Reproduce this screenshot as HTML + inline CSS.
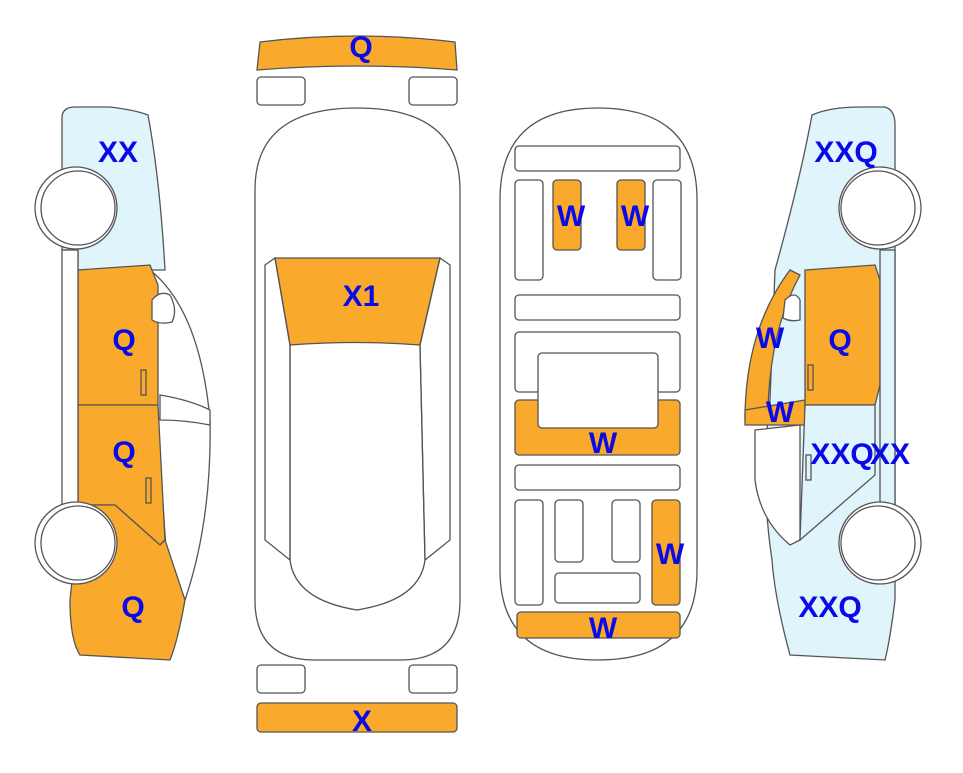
<!DOCTYPE html>
<html><head><style>
html,body{margin:0;padding:0;background:#fff}
svg text{font-family:"Liberation Sans",Arial,sans-serif;font-weight:bold;font-size:30px;fill:#0a0ae8;text-anchor:middle}
</style></head><body>
<svg width="963" height="768" viewBox="0 0 963 768" xmlns="http://www.w3.org/2000/svg">
<g stroke="#555" stroke-width="1.3" fill="#fff">
<!-- LEFT CAR -->
<path d="M62,118 Q62,107 75,107 L110,107 Q135,110 148,115 Q160,180 165,270 L78,270 L78,250 L62,250 Z" fill="#dff4fb"/>
<path d="M150,270 Q200,310 210,420 Q212,520 185,600 L170,600 Q160,480 150,270Z" fill="#fff"/>
<path d="M160,395 Q190,400 210,410 L210,425 Q185,420 160,420Z" fill="#fff"/>
<path d="M78,270 L150,265 L158,285 L158,405 L78,405Z" fill="#f9a92b"/>
<path d="M78,405 L158,405 L165,540 L160,545 L115,505 L78,505Z" fill="#f9a92b"/>
<path d="M80,505 L115,505 L160,545 L165,540 L185,600 Q178,640 170,660 L80,655 Q70,640 70,600 Z" fill="#f9a92b"/>
<rect x="62" y="250" width="16" height="255" fill="#fff"/>
<path d="M152,300 Q160,290 170,295 Q178,310 172,322 Q160,325 152,320Z" fill="#fff"/>
<circle cx="76" cy="208" r="41"/><circle cx="78" cy="208" r="37"/>
<circle cx="76" cy="543" r="41"/><circle cx="78" cy="543" r="37"/>
<rect x="141" y="370" width="5" height="25" fill="none"/><rect x="146" y="478" width="5" height="25" fill="none"/>
<!-- RIGHT CAR -->
<path d="M812,115 Q830,107 860,107 L885,107 Q895,110 895,125 L895,545 L895,600 Q890,640 885,660 L790,655 Q775,600 772,560 Q760,480 770,400 L775,270 Q800,180 812,115Z" fill="#dff4fb"/>
<path d="M745,420 Q745,330 790,270 L800,275 Q770,330 768,410 Z" fill="#f9a92b"/>
<path d="M745,410 L805,400 L805,425 L745,425Z" fill="#f9a92b"/>
<path d="M755,430 L800,425 L800,540 L790,545 Q760,520 755,480Z" fill="#fff"/>
<path d="M805,270 L875,265 L880,280 L880,385 L875,405 L805,405Z" fill="#f9a92b"/>
<path d="M805,405 L875,405 L875,475 L800,540Z" fill="#dff4fb"/>
<rect x="880" y="250" width="15" height="255" fill="#dff4fb"/>
<path d="M785,300 Q795,290 800,300 L800,320 Q790,322 783,318Z" fill="#fff"/>
<circle cx="880" cy="208" r="41"/><circle cx="878" cy="208" r="37"/>
<circle cx="880" cy="543" r="41"/><circle cx="878" cy="543" r="37"/>
<rect x="808" y="365" width="5" height="25" fill="none"/><rect x="806" y="455" width="5" height="25" fill="none"/>
<!-- TOP VIEW -->
<path d="M260,42 Q357,30 455,42 L457,70 Q357,62 257,70Z" fill="#f9a92b"/>
<rect x="257" y="77" width="48" height="28" rx="4"/><rect x="409" y="77" width="48" height="28" rx="4"/>
<rect x="257" y="665" width="48" height="28" rx="4"/><rect x="409" y="665" width="48" height="28" rx="4"/>
<rect x="257" y="703" width="200" height="29" rx="4" fill="#f9a92b"/>
<path d="M255,190 Q255,108 357,108 Q460,108 460,190 L460,600 Q460,660 400,660 L315,660 Q255,660 255,600Z"/>
<path d="M275,258 L440,258 L420,345 L290,345Z" fill="#f9a92b"/>
<path d="M290,345 Q357,340 420,345 L425,560 Q420,600 357,610 Q295,600 290,560Z"/>
<path d="M265,265 L275,258 L290,345 L290,560 L265,540Z" fill="none"/>
<path d="M450,265 L440,258 L420,345 L425,560 L450,540Z" fill="none"/>
<!-- INTERIOR -->
<path d="M500,200 Q500,108 598,108 Q697,108 697,200 L697,570 Q697,660 598,660 Q500,660 500,570Z"/>
<rect x="515" y="146" width="165" height="25" rx="4"/>
<rect x="515" y="180" width="28" height="100" rx="4"/><rect x="653" y="180" width="28" height="100" rx="4"/>
<rect x="553" y="180" width="28" height="70" rx="4" fill="#f9a92b"/><rect x="617" y="180" width="28" height="70" rx="4" fill="#f9a92b"/>
<rect x="515" y="295" width="165" height="25" rx="4"/>
<rect x="515" y="332" width="165" height="60" rx="4"/>
<rect x="515" y="400" width="165" height="55" rx="4" fill="#f9a92b"/>
<rect x="538" y="353" width="120" height="75" rx="4"/>
<rect x="515" y="465" width="165" height="25" rx="4"/>
<rect x="515" y="500" width="28" height="105" rx="4"/>
<rect x="555" y="500" width="28" height="62" rx="4"/><rect x="612" y="500" width="28" height="62" rx="4"/>
<rect x="652" y="500" width="28" height="105" rx="4" fill="#f9a92b"/>
<rect x="555" y="573" width="85" height="30" rx="4"/>
<rect x="517" y="612" width="163" height="26" rx="4" fill="#f9a92b"/>
</g>
<text x="118" y="162">XX</text>
<text x="124" y="350">Q</text>
<text x="124" y="462">Q</text>
<text x="133" y="617">Q</text>
<text x="361" y="57">Q</text>
<text x="361" y="306">X1</text>
<text x="362" y="731">X</text>
<text x="571" y="226">W</text>
<text x="635" y="226">W</text>
<text x="603" y="453">W</text>
<text x="670" y="564">W</text>
<text x="603" y="638">W</text>
<text x="846" y="162">XXQ</text>
<text x="770" y="348">W</text>
<text x="840" y="350">Q</text>
<text x="780" y="422">W</text>
<text x="842" y="464">XXQ</text>
<text x="890" y="464">XX</text>
<text x="830" y="617">XXQ</text>
</svg>
</body></html>
